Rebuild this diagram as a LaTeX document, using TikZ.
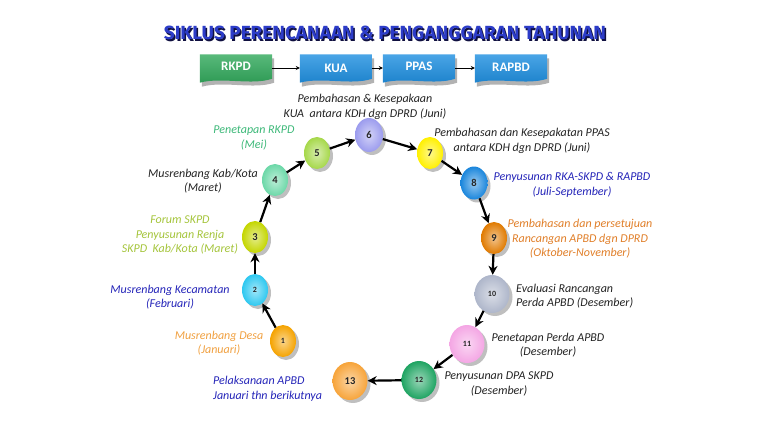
\documentclass[tikz,border=0pt]{standalone}
\usepackage{fontspec}
\setmainfont{Carlito}
\newfontfamily\titlefont{Fira Sans}
\usetikzlibrary{shadows,arrows.meta,shapes.geometric}
\definecolor{c1}{HTML}{F5A300}
\definecolor{c2}{HTML}{2EC8F0}
\definecolor{c3}{HTML}{C4D600}
\definecolor{c4}{HTML}{6CD8A8}
\definecolor{c5}{HTML}{A6D84A}
\definecolor{c6}{HTML}{9C9CEE}
\definecolor{c7}{HTML}{FFF000}
\definecolor{c8}{HTML}{1A86DC}
\definecolor{c9}{HTML}{E07A00}
\definecolor{c10}{HTML}{AEB6CA}
\definecolor{c11}{HTML}{F4A6E4}
\definecolor{c12}{HTML}{1FA462}
\definecolor{c13}{HTML}{F7A43A}
\definecolor{tblue}{HTML}{2424B8}
\definecolor{torange}{HTML}{F0A040}
\definecolor{tgreen}{HTML}{3CB878}
\definecolor{tyg}{HTML}{A4C43A}
\definecolor{torange2}{HTML}{E07E28}
\definecolor{tdark}{HTML}{222222}
\definecolor{boxgreen}{HTML}{2FA85A}
\definecolor{boxblue}{HTML}{1C8EE0}
\definecolor{titleblue}{HTML}{2C3CC8}
\definecolor{titledark}{HTML}{101040}
\tikzset{
  ballnode/.style={ellipse, minimum width=26, minimum height=32, inner sep=0pt,
    shading=radial, inner color=#1!45!white, outer color=#1,
    drop shadow={shadow xshift=3pt, shadow yshift=-3pt, opacity=0.25, fill=black},
    font=\bfseries\fontsize{10.5}{10}\selectfont, text=black!85},
  bigball/.style={ballnode=#1, minimum width=35, minimum height=38},
  smallnum/.style={font=\bfseries\fontsize{8}{8}\selectfont},
  arr/.style={line width=2.2pt, -{Stealth[length=9pt,width=9pt]}, black},
  thinarr/.style={line width=0.9pt, -{Stealth[length=4pt,width=4pt]}, black},
  lbl/.style={font=\itshape\fontsize{12}{14.5}\selectfont, align=center, inner sep=0pt},
  topbox/.style={minimum width=72, minimum height=27, inner sep=0pt,
    text=white, font=\bfseries\fontsize{13}{13}\selectfont},
}
\begin{document}
\begin{tikzpicture}[x=1pt,y=-1pt]
\useasboundingbox (0,0) rectangle (768,433);
% title
\node[font=\titlefont\bfseries\fontsize{19}{20}\selectfont, text=titledark] (titleshadow) at (386.5,34.5) {SIKLUS PERENCANAAN \& PENGANGGARAN TAHUNAN};
\node[font=\titlefont\bfseries\fontsize{19}{20}\selectfont, text=titleblue] (title) at (385,33) {SIKLUS PERENCANAAN \& PENGANGGARAN TAHUNAN};
% top boxes
\node[topbox] (rkpd) at (236,68) {};
\node[topbox] (kua) at (336,68) {};
\node[topbox] (ppas) at (419,68) {};
\node[topbox] (rapbd) at (511,68) {};
\foreach \n/\c in {rkpd/boxgreen, kua/boxblue, ppas/boxblue, rapbd/boxblue}{
  \path[top color=\c!80!white, bottom color=\c!90!black,
    drop shadow={shadow xshift=2pt, shadow yshift=-4pt, opacity=0.3, fill=black}]
    (\n.north west) -- (\n.north east) -- ([yshift=3pt]\n.south east)
    .. controls ([xshift=-20pt,yshift=-4pt]\n.south east) and ([xshift=22pt,yshift=5pt]\n.south west) .. ([yshift=-1pt]\n.south west) -- cycle;
}
\node[topbox] at ([yshift=2pt]rkpd.center) {RKPD};
\node[topbox] at (kua) {KUA};
\node[topbox] at ([yshift=2pt]ppas.center) {PPAS};
\node[topbox] at ([yshift=1pt]rapbd.center) {RAPBD};
\draw[thinarr] (rkpd) -- (kua);
\draw[thinarr] (kua) -- (ppas);
\draw[thinarr] (ppas) -- (rapbd);
% balls
\node[ballnode=c1, smallnum] (n1) at (283,341) {1};
\node[ballnode=c2, smallnum] (n2) at (255,290) {2};
\node[ballnode=c3] (n3) at (255,237) {3};
\node[ballnode=c4] (n4) at (275,180) {4};
\node[ballnode=c5] (n5) at (317,153) {5};
\node[ballnode=c6, minimum width=28, minimum height=34] (n6) at (369,135) {6};
\node[ballnode=c7] (n7) at (430,153) {7};
\node[ballnode=c8, minimum width=27, minimum height=33] (n8) at (474,183) {8};
\node[ballnode=c9] (n9) at (494,238) {9};
\node[bigball=c10, smallnum] (n10) at (492,294) {10};
\node[bigball=c11, smallnum] (n11) at (467,344) {11};
\node[bigball=c12, smallnum] (n12) at (419,380) {12};
\node[bigball=c13] (n13) at (350,381) {13};
% arrows
\draw[arr] (n1) -- (n2);
\draw[arr] (n2) -- (n3);
\draw[arr] (n3) -- (n4);
\draw[arr] (n4) -- (n5);
\draw[arr] (n5) -- (n6);
\draw[arr] (n6) -- (n7);
\draw[arr] (n7) -- (n8);
\draw[arr] (n8) -- (n9);
\draw[arr] (n9) -- (n10);
\draw[arr] (n10) -- (n11);
\draw[arr] (n11) -- (n12);
\draw[arr] (n12) -- (n13);
% labels
\node[lbl, text=tdark] (l6) at (365,107) {Pembahasan \& Kesepakaan\\KUA\ \ antara KDH dgn DPRD (Juni)};
\node[lbl, text=tgreen] (l5) at (254,138) {Penetapan RKPD\\(Mei)};
\node[lbl, text=tdark] (l4) at (203,181) {Musrenbang Kab/Kota\\(Maret)};
\node[lbl, text=tyg] (l3) at (180,235) {Forum SKPD\\Penyusunan Renja\\SKPD\ \ Kab/Kota (Maret)};
\node[lbl, text=tblue] (l2) at (170,297) {Musrenbang Kecamatan\\(Februari)};
\node[lbl, text=torange] (l1) at (219,343) {Musrenbang Desa\\(Januari)};
\node[lbl, text=tblue, align=left, anchor=west] (l13) at (213,389) {Pelaksanaan APBD\\Januari thn berikutnya};
\node[lbl, text=tdark] (l7) at (522,141) {Pembahasan dan Kesepakatan PPAS\\antara KDH dgn DPRD (Juni)};
\node[lbl, text=tblue] (l8) at (572,185) {Penyusunan RKA-SKPD \& RAPBD\\(Juli-September)};
\node[lbl, text=torange2] (l9) at (580,239) {Pembahasan dan persetujuan\\Rancangan APBD dgn DPRD\\(Oktober-November)};
\node[lbl, text=tdark, align=left, anchor=west] (l10) at (516,296) {Evaluasi Rancangan\\Perda APBD (Desember)};
\node[lbl, text=tdark] (l11) at (548,345) {Penetapan Perda APBD\\(Desember)};
\node[lbl, text=tdark] (l12) at (499,384) {Penyusunan DPA SKPD\\(Desember)};
\end{tikzpicture}
\end{document}
